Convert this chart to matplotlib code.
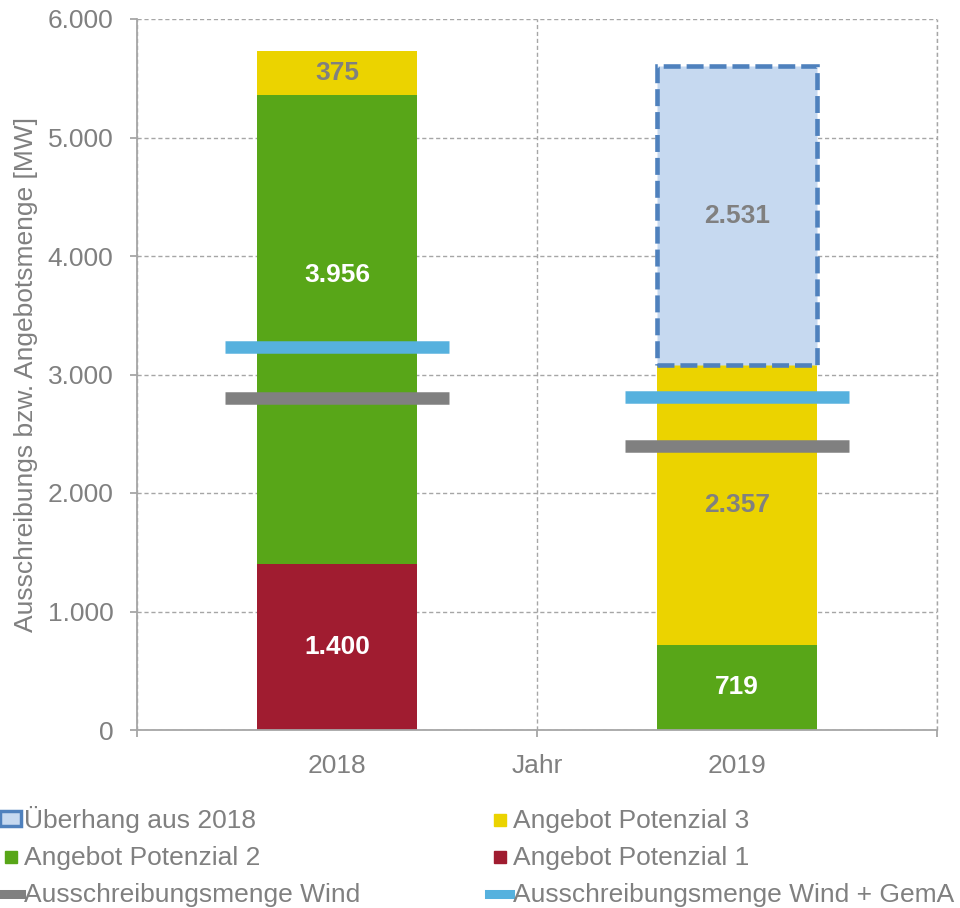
import matplotlib.pyplot as plt
from matplotlib.patches import Patch
from matplotlib.lines import Line2D

plt.rcParams['font.family'] = ['Liberation Sans', 'DejaVu Sans']

# Daten
jahre = ['2018', '2019']
potenzial_1 = [1400, 0]
potenzial_2 = [3956, 719]
potenzial_3 = [375, 2357]
ueberhang = [0, 2531]
menge_wind = [2800, 2400]
menge_wind_gema = [3230, 2810]

GRAU = '#808080'
LINIE = '#A6A6A6'
ROT = '#A01C30'
GRUEN = '#58A618'
GELB = '#EBD300'
HELLBLAU = '#C6D9F0'
DUNKELBLAU = '#4F81BD'
BLAU = '#56B1DE'
SCHRIFT = 19

fig = plt.figure(figsize=(9.6, 9.08), dpi=100)
ax = fig.add_axes([137 / 960, 1 - 730 / 908, 800 / 960, 711 / 908])

x = [0, 1]
breite = 0.4

# gestapelte Balken
b1 = [0, 0]
b2 = [b1[i] + potenzial_1[i] for i in range(2)]
b3 = [b2[i] + potenzial_2[i] for i in range(2)]
b4 = [b3[i] + potenzial_3[i] for i in range(2)]

ax.bar(x, potenzial_1, breite, bottom=b1, color=ROT, zorder=2)
ax.bar(x, potenzial_2, breite, bottom=b2, color=GRUEN, zorder=2)
ax.bar(x, potenzial_3, breite, bottom=b3, color=GELB, zorder=2)
ax.bar(x[1], ueberhang[1], breite, bottom=b4[1], facecolor=HELLBLAU,
       edgecolor=DUNKELBLAU, linewidth=3.3, linestyle=(0, (3.7, 1.3)), zorder=2)

# Ausschreibungsmengen als Querbalken
for i in range(2):
    ax.hlines(menge_wind[i], x[i] - 0.28, x[i] + 0.28, color=GRAU, linewidth=9, zorder=3)
    ax.hlines(menge_wind_gema[i], x[i] - 0.28, x[i] + 0.28, color=BLAU, linewidth=9, zorder=3)

# Beschriftungen
def beschriften(xpos, unten, wert, farbe, versatz=0):
    if wert <= 0:
        return
    text = f'{wert:,}'.replace(',', '.')
    ax.text(xpos, unten + wert / 2 + versatz, text, ha='center', va='center',
            fontsize=SCHRIFT, fontweight='bold', color=farbe, zorder=4)

for i in range(2):
    beschriften(x[i], b1[i], potenzial_1[i], 'white')
    # Label 2018 sitzt oberhalb der Querbalken, wie im Original
    beschriften(x[i], b2[i], potenzial_2[i], 'white', versatz=465 if i == 0 else 0)
    beschriften(x[i], b3[i], potenzial_3[i], GRAU)
    beschriften(x[i], b4[i], ueberhang[i], GRAU)

# Achsen
ax.set_xlim(-0.5, 1.5)
ax.set_ylim(0, 6000)
ax.set_yticks(range(0, 6001, 1000))
ax.set_yticklabels(['0', '1.000', '2.000', '3.000', '4.000', '5.000', '6.000'])
ax.set_xticks(x)
ax.set_xticklabels(jahre)
ax.set_xticks([-0.5, 0.5, 1.5], minor=True)
ax.tick_params(axis='x', which='major', length=0, pad=17, labelsize=SCHRIFT, labelcolor=GRAU)
ax.tick_params(axis='x', which='minor', length=5, width=1.3, color=LINIE, direction='out')
ax.tick_params(axis='y', length=5, width=1.3, color=LINIE, labelsize=SCHRIFT, labelcolor=GRAU, pad=12)

ax.grid(axis='y', color=LINIE, linestyle=(0, (3, 2)), linewidth=1, zorder=0)
ax.grid(axis='x', which='minor', color=LINIE, linestyle=(0, (3, 2)), linewidth=1, zorder=0)
ax.axvline(1.5, color=LINIE, linestyle=(0, (3, 2)), linewidth=1, zorder=0, clip_on=False)
ax.set_axisbelow(True)

for s in ['top', 'right']:
    ax.spines[s].set_visible(False)
for s in ['left', 'bottom']:
    ax.spines[s].set_color(LINIE)
    ax.spines[s].set_linewidth(1.3)

ax.set_ylabel('Ausschreibungs bzw. Angebotsmenge [MW]', fontsize=SCHRIFT, color=GRAU)
ax.yaxis.set_label_coords(-0.124, 0.5)
ax.text(0.5, -0.05, 'Jahr', transform=ax.transAxes, ha='center', va='center',
        fontsize=SCHRIFT, color=GRAU)

# Legende
handles = [
    Patch(facecolor=HELLBLAU, edgecolor=DUNKELBLAU, linewidth=2.5),
    Line2D([], [], marker='s', color=GRUEN, linestyle='none', markersize=9),
    Line2D([], [], color=GRAU, linewidth=6.5),
    Line2D([], [], marker='s', color=GELB, linestyle='none', markersize=9),
    Line2D([], [], marker='s', color=ROT, linestyle='none', markersize=9),
    Line2D([], [], color=BLAU, linewidth=6.5),
]
labels = ['Überhang aus 2018', 'Angebot Potenzial 2', 'Ausschreibungsmenge Wind',
          'Angebot Potenzial 3', 'Angebot Potenzial 1', 'Ausschreibungsmenge Wind + GemA']
leg = fig.legend(handles, labels, ncol=2, loc='upper left', bbox_to_anchor=(0.0, 0.112),
                 frameon=False, fontsize=SCHRIFT, handlelength=0.8, handleheight=0.5,
                 handletextpad=0.1, labelspacing=0.49, columnspacing=4.9,
                 borderaxespad=0, borderpad=0)
for t in leg.get_texts():
    t.set_color(GRAU)

fig.savefig('out.png', dpi=100)
